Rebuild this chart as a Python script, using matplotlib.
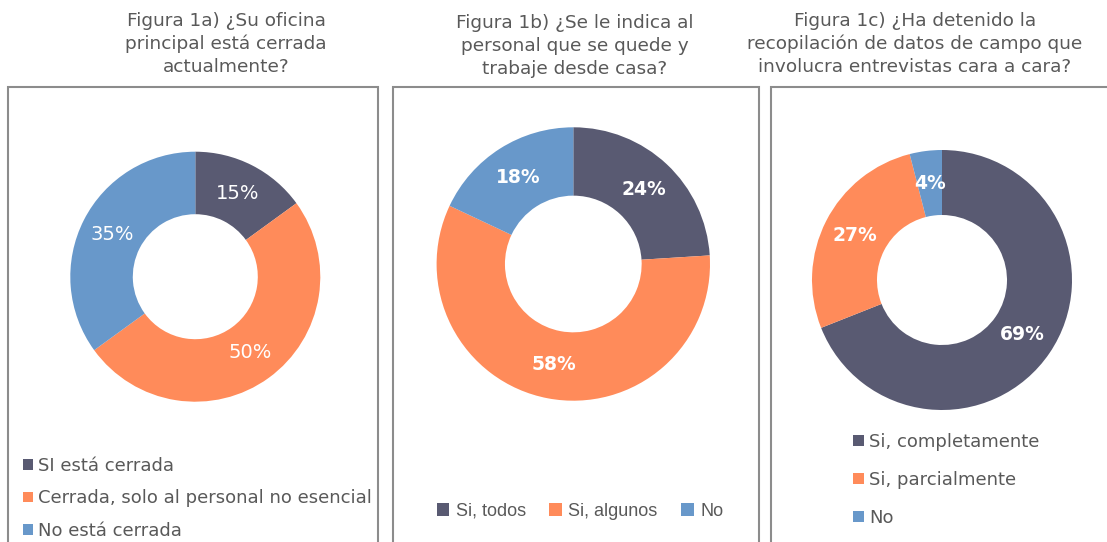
import matplotlib
matplotlib.use("Agg")
import matplotlib.pyplot as plt
from matplotlib.patches import Rectangle, Patch

W, H = 1107, 542

colors = ["#595A72", "#FF8B5A", "#6898CA"]
text_gray = "#595959"
box_gray = "#8C8C8C"

titles = [
    "Figura 1a) ¿Su oficina\nprincipal está cerrada\nactualmente?",
    "Figura 1b) ¿Se le indica al\npersonal que se quede y\ntrabaje desde casa?",
    "Figura 1c) ¿Ha detenido la\nrecopilación de datos de campo que\ninvolucra entrevistas cara a cara?",
]

labels_a = ["SI está cerrada", "Cerrada, solo al personal no esencial", "No está cerrada"]
values_a = [15, 50, 35]

labels_b = ["Si, todos", "Si, algunos", "No"]
values_b = [24, 58, 18]

labels_c = ["Si, completamente", "Si, parcialmente", "No"]
values_c = [69, 27, 4]


def px_axes(fig, cx, cy, r):
    # axes cuadrado en pixeles, centrado en (cx, cy) medido desde arriba
    return fig.add_axes([(cx - r) / W, (H - cy - r) / H, 2 * r / W, 2 * r / H])


def donut(ax, values, bold, fs):
    wedges, _, autotexts = ax.pie(
        values, colors=colors, startangle=90, counterclock=False, radius=1,
        wedgeprops=dict(width=0.5, linewidth=0), pctdistance=0.75,
        autopct=lambda p: f"{p:.0f}%",
        textprops=dict(color="white", fontsize=fs,
                       fontweight="bold" if bold else "normal"))
    ax.set_xlim(-1, 1)
    ax.set_ylim(-1, 1)
    ax.set_aspect("equal")
    ax.axis("off")
    return wedges


fig = plt.figure(figsize=(W / 100, H / 100), dpi=100)

# marcos de cada panel (se salen por abajo)
for x0, x1 in [(8, 378), (392.5, 759), (770.5, 1112)]:
    fig.add_artist(Rectangle((x0 / W, -0.05), (x1 - x0) / W, 1.05 - 87 / H,
                             transform=fig.transFigure, fill=False,
                             edgecolor=box_gray, linewidth=1.5))

# titulos
for t, xc, yc in zip(titles, [226, 575, 915], [44, 46, 44]):
    fig.text(xc / W, 1 - yc / H, t, ha="center", va="center", fontsize=13.3,
             color=text_gray, linespacing=1.33)

ax1 = px_axes(fig, 195.3, 276.7, 125)
donut(ax1, values_a, False, 14)
ax2 = px_axes(fig, 573.3, 264, 136.7)
donut(ax2, values_b, True, 13.5)
ax3 = px_axes(fig, 942, 280, 130)
donut(ax3, values_c, True, 13.5)

handles = [Patch(facecolor=c) for c in colors]

fig.legend(handles, labels_a, loc="upper left", bbox_to_anchor=(23 / W, 1 - 457 / H),
           frameon=False, fontsize=13, handlelength=0.55, handleheight=0.55,
           handletextpad=0.28, labelspacing=0.8, borderpad=0, borderaxespad=0,
           labelcolor=text_gray)

fig.legend(handles, labels_b, loc="center", bbox_to_anchor=(580 / W, 1 - 511 / H),
           ncol=3, frameon=False, handlelength=0.7, handleheight=0.7,
           handletextpad=0.35, columnspacing=1.3, borderpad=0, borderaxespad=0,
           labelcolor=text_gray, prop=dict(family="Liberation Sans", size=13))

fig.legend(handles, labels_c, loc="upper left", bbox_to_anchor=(853 / W, 1 - 433 / H),
           frameon=False, fontsize=13, handlelength=0.6, handleheight=0.6,
           handletextpad=0.3, labelspacing=1.1, borderpad=0, borderaxespad=0,
           labelcolor=text_gray)

fig.savefig("out.png", dpi=100)
